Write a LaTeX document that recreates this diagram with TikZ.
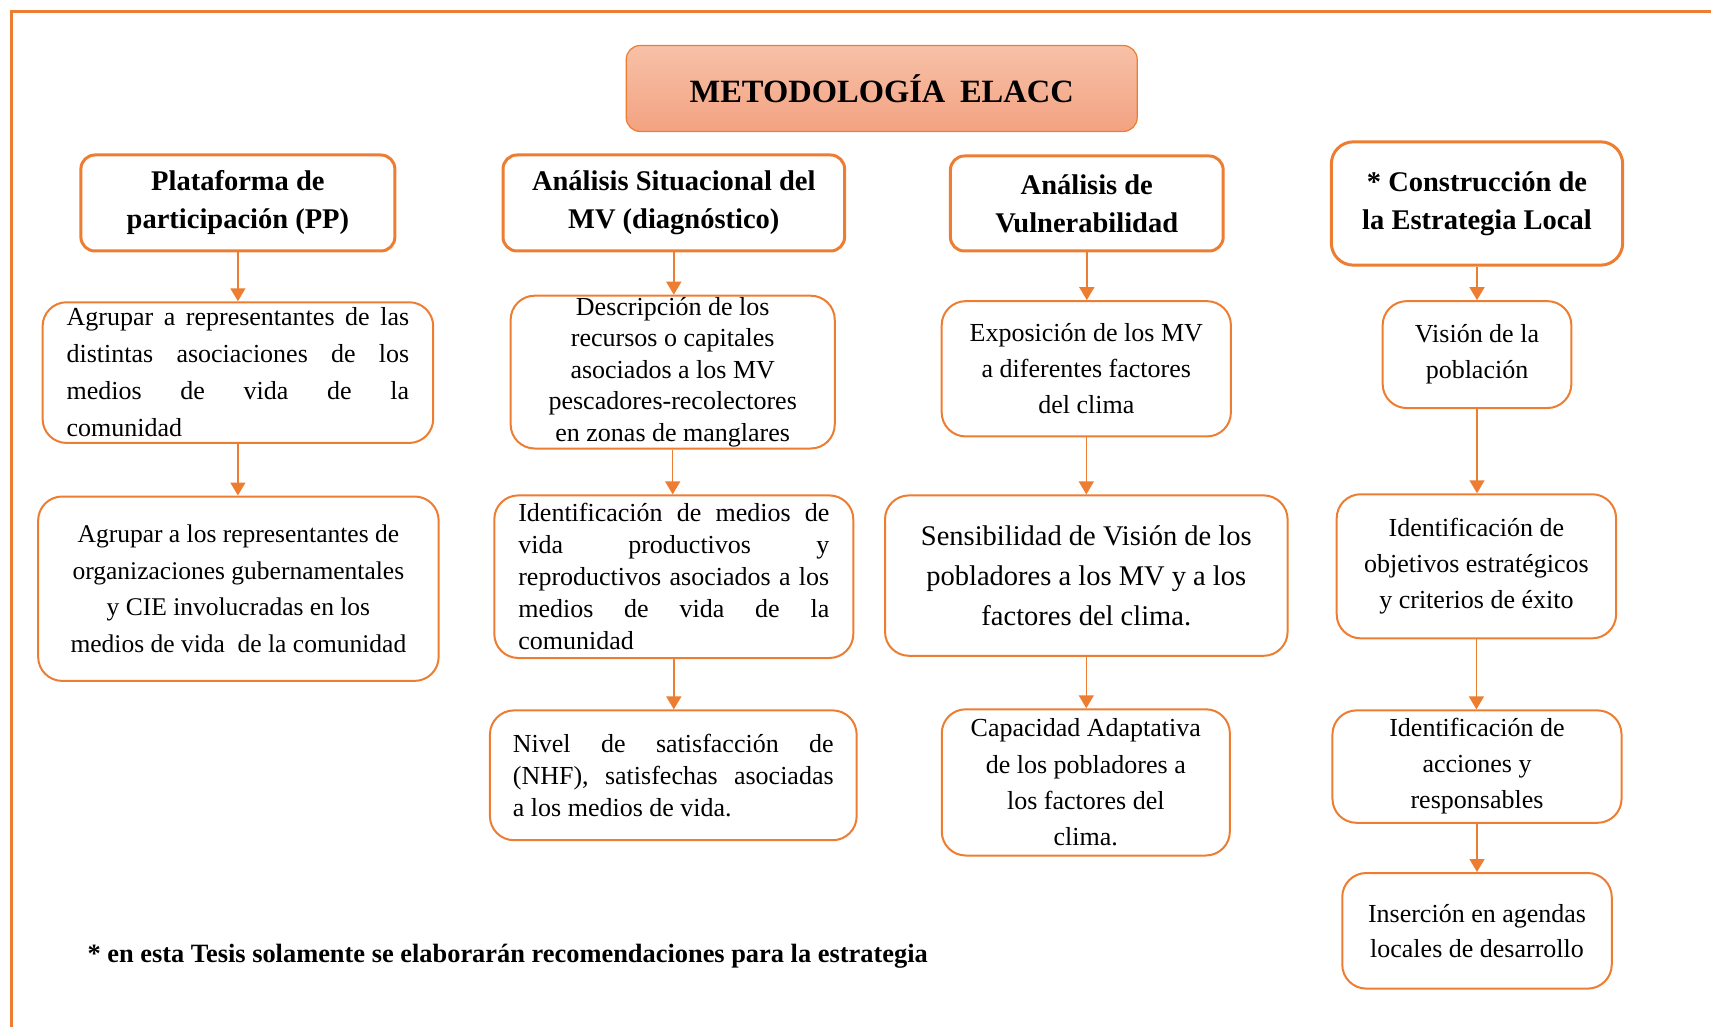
\documentclass[tikz,border=0pt]{standalone}
\usepackage{fontspec}
\setmainfont{Liberation Serif}
\usetikzlibrary{arrows.meta}
\definecolor{orng}{HTML}{ED7D31}
\definecolor{ttop}{HTML}{F7C1A8}
\definecolor{tbot}{HTML}{F3A281}
\begin{document}
\begin{tikzpicture}[x=1pt,y={(0pt,-1pt)},
 hdr/.style={draw=orng, line width=3pt, rounded corners=14pt, fill=white, align=center, inner sep=0pt, font=\bfseries\fontsize{28.5}{38}\selectfont},
 bx/.style={draw=orng, line width=2pt, rounded corners=24pt, fill=white, align=center, inner sep=0pt, font=\fontsize{26}{36}\selectfont},
 jbx/.style={bx, align=justify},
 arr/.style={draw=orng, line width=1.5pt, -{Triangle[width=15pt,length=13pt]}},
 ]
\useasboundingbox (0,0) rectangle (1711,1027);
\draw[orng, line width=3pt] (11,1027) -- (11,12) -- (1711,12);

\node[draw=orng, line width=1.2pt, rounded corners=14pt, top color=ttop, bottom color=tbot, minimum width=511pt, minimum height=86pt, inner sep=0pt, font=\bfseries\fontsize{32.5}{38}\selectfont] (title) at (881.7,88.5) {METODOLOGÍA\hspace{0.45em}ELACC};

\node[hdr, minimum width=314pt, minimum height=96pt] (h1) at (237.9,203) {Plataforma de\\participación (PP)};
\node[hdr, minimum width=341.6pt, minimum height=96pt] (h2) at (673.8,203) {Análisis Situacional del\\MV (diagnóstico)};
\node[hdr, minimum width=272.8pt, minimum height=95pt] (h3) at (1086.8,203.5) {Análisis de\\Vulnerabilidad};
\node[hdr, minimum width=291.3pt, minimum height=123.3pt, rounded corners=22pt] (h4) at (1477,203.5) {* Construcción de\\la Estrategia Local};

\node[jbx, minimum width=390.6pt, minimum height=140.7pt, text width=342.6pt, font=\fontsize{26}{37}\selectfont] (b1a) at (237.9,372.6) {Agrupar a representantes de las\linebreak distintas asociaciones de los\linebreak medios de vida de la\linebreak comunidad};
\node[bx, minimum width=400.5pt, minimum height=184.4pt, font=\fontsize{25.5}{36.5}\selectfont] (b1b) at (238.4,588.7) {Agrupar a los representantes de\\organizaciones gubernamentales\\y CIE involucradas en los\\medios de vida\ \ de la comunidad};

\node[bx, minimum width=324.1pt, minimum height=152.8pt, font=\fontsize{26}{31.6}\selectfont] (b2a) at (672.7,372.1) {Descripción de los\\recursos o capitales\\asociados a los MV\\pescadores-recolectores\\en zonas de manglares};
\node[jbx, minimum width=359pt, minimum height=162.6pt, text width=311pt, font=\fontsize{26}{32}\selectfont] (b2b) at (673.8,576.7) {Identificación de medios de\linebreak vida productivos y\linebreak reproductivos asociados a los\linebreak medios de vida de la\linebreak comunidad};
\node[jbx, minimum width=366.7pt, minimum height=129.8pt, text width=320.8pt, font=\fontsize{26}{32}\selectfont] (b2c) at (673.3,775.3) {Nivel de satisfacción de\linebreak (NHF), satisfechas asociadas\linebreak a los medios de vida.};

\node[bx, minimum width=289.2pt, minimum height=135.3pt] (b3a) at (1086.3,368.8) {Exposición de los MV\\a diferentes factores\\del clima};
\node[bx, minimum width=402.6pt, minimum height=160.4pt, font=\fontsize{28.5}{40}\selectfont] (b3b) at (1086.3,575.6) {Sensibilidad de Visión de los\\pobladores a los MV y a los\\factores del clima.};
\node[bx, minimum width=288.1pt, minimum height=146.2pt, font=\fontsize{26}{36.4}\selectfont] (b3c) at (1085.8,782.4) {Capacidad Adaptativa\\de los pobladores a\\los factores del\\clima.};

\node[bx, minimum width=188.7pt, minimum height=106.9pt] (b4a) at (1477,354.6) {Visión de la\\población};
\node[bx, minimum width=279.4pt, minimum height=144.1pt] (b4b) at (1476.4,566.3) {Identificación de\\objetivos estratégicos\\y criterios de éxito};
\node[bx, minimum width=289.1pt, minimum height=112.4pt] (b4c) at (1477,766.6) {Identificación de\\acciones y\\responsables};
\node[bx, minimum width=269.5pt, minimum height=115.6pt, font=\fontsize{26}{35}\selectfont] (b4d) at (1477,930.8) {Inserción en agendas\\locales de desarrollo};

\node[anchor=west, inner sep=0pt, font=\bfseries\fontsize{26.4}{30}\selectfont] (note) at (87.3,956) {* en esta Tesis solamente se elaborarán recomendaciones para la estrategia};

\draw[arr] (h1.south) -- (h1.south |- b1a.north);
\draw[arr] (b1a.south) -- (b1a.south |- b1b.north);
\draw[arr] (h2.south) -- (h2.south |- b2a.north);
\draw[arr] (b2a.south) -- (b2a.south |- b2b.north);
\draw[arr] (b2b.south) -- (b2b.south |- b2c.north);
\draw[arr] (h3.south) -- (h3.south |- b3a.north);
\draw[arr] (b3a.south) -- (b3a.south |- b3b.north);
\draw[arr] (b3b.south) -- (b3b.south |- b3c.north);
\draw[arr] (h4.south) -- (h4.south |- b4a.north);
\draw[arr] (b4a.south) -- (b4a.south |- b4b.north);
\draw[arr] (b4b.south) -- (b4b.south |- b4c.north);
\draw[arr] (b4c.south) -- (b4c.south |- b4d.north);
\end{tikzpicture}
\end{document}
